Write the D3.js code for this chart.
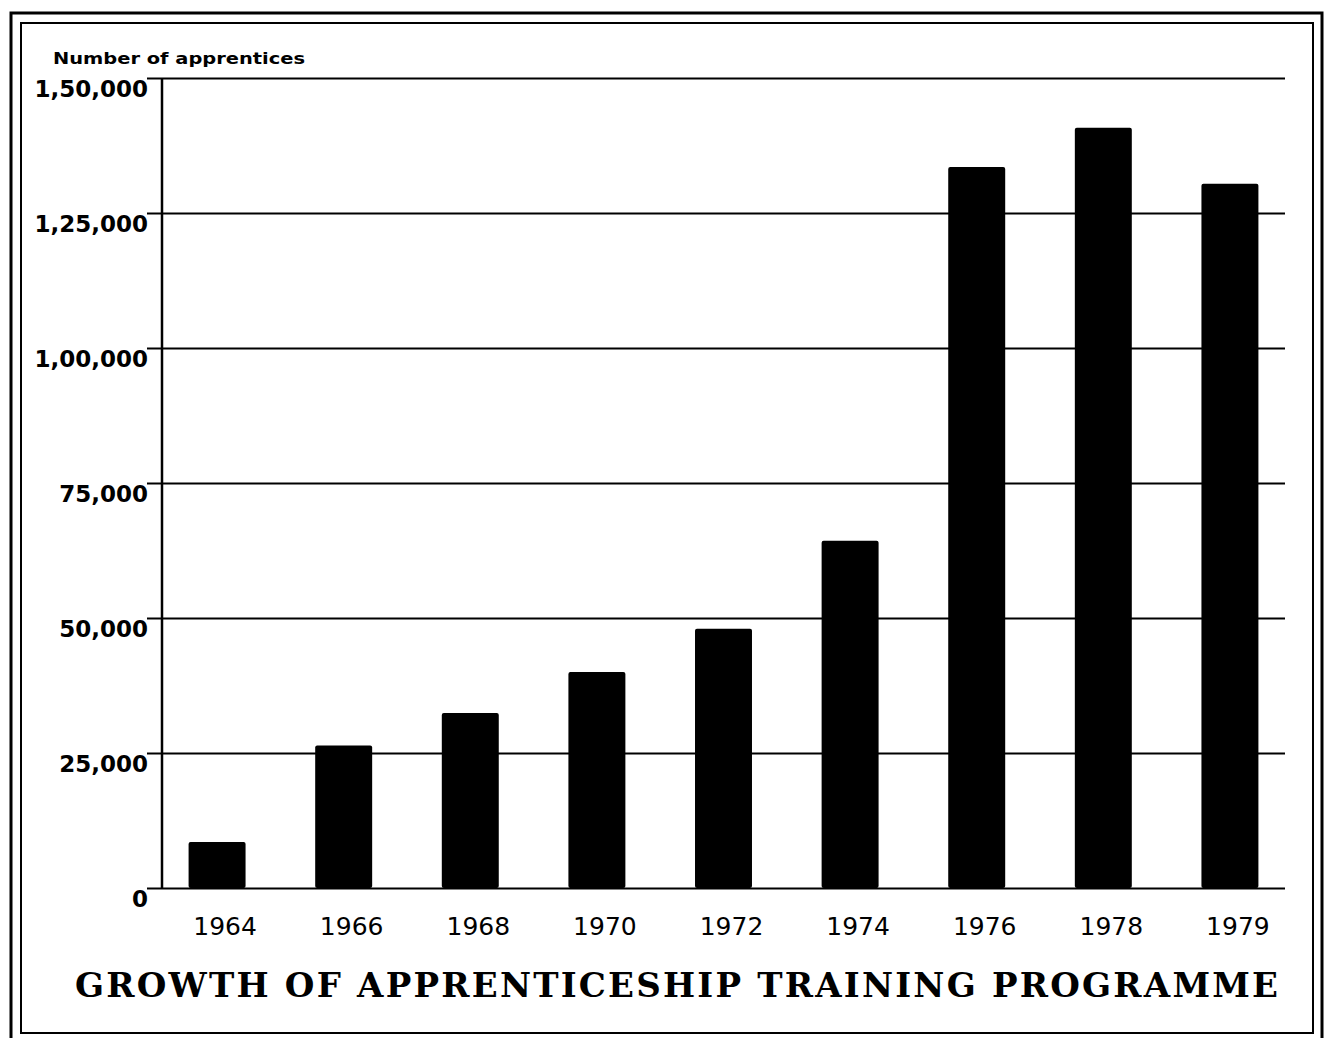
<!DOCTYPE html>
<html>
<head>
<meta charset="utf-8">
<script src="https://cdn.jsdelivr.net/npm/d3@7"></script>
<style>
  html, body { margin: 0; padding: 0; background: #fff; }
  svg { display: block; }
</style>
</head>
<body>
<svg id="chart" width="1327" height="1038"></svg>
<script>
// data
const years = ['1964', '1966', '1968', '1970', '1972', '1974', '1976', '1978', '1979']
const apprentices = [8500, 26400, 32400, 40000, 48000, 64300, 133500, 140800, 130400]
const yTicks = [0, 25000, 50000, 75000, 100000, 125000, 150000]
const yTitle = 'Number of apprentices'
const title = 'GROWTH OF APPRENTICESHIP TRAINING PROGRAMME'

// indian style grouping: 1,50,000
function indian(n) {
  if (n < 100000) return d3.format(',')(n)
  const lakh = Math.floor(n / 100000)
  const rest = n % 100000
  return lakh + ',' + String(Math.floor(rest / 1000)).padStart(2, '0') + ',' + String(rest % 1000).padStart(3, '0')
}

const svg = d3.select('#chart')
const plotLeft = 162, plotRight = 1285, plotTop = 78, plotBottom = 888

// frame (double border)
svg.append('rect')
   .attr('x', 11).attr('y', 13).attr('width', 1311).attr('height', 1030)
   .attr('fill', 'none').attr('stroke', '#000').attr('stroke-width', 3)
svg.append('rect')
   .attr('x', 21).attr('y', 23).attr('width', 1292).attr('height', 1010)
   .attr('fill', 'none').attr('stroke', '#000').attr('stroke-width', 2)

const x = d3.scaleBand()
            .domain(years)
            .range([plotLeft, plotRight])
            .paddingInner(0.55)
            .paddingOuter(0.21)

const y = d3.scaleLinear()
            .domain([0, 150000])
            .range([plotBottom, plotTop])

// y axis with gridlines
const yAxis = svg.append('g')
   .attr('transform', `translate(${plotLeft},0)`)
   .call(d3.axisLeft(y).tickValues(yTicks).tickFormat(indian).tickSize(15).tickPadding(0))
yAxis.select('.domain').remove()
yAxis.selectAll('.tick line').attr('stroke', '#000').attr('stroke-width', 2)
yAxis.selectAll('.tick').append('line')
   .attr('x1', 0).attr('x2', plotRight - plotLeft)
   .attr('stroke', '#000').attr('stroke-width', 2)
yAxis.selectAll('.tick text')
   .attr('x', -14)
   .attr('dy', '0.8em')
   .attr('fill', '#000')
   .style('font-family', 'DejaVu Sans')
   .style('font-weight', 'bold')
   .style('font-size', '23px')

svg.append('line')
   .attr('x1', plotLeft).attr('x2', plotLeft)
   .attr('y1', plotTop).attr('y2', plotBottom)
   .attr('stroke', '#000').attr('stroke-width', 2.5)

// bars
svg.append('g')
   .selectAll('rect')
   .data(apprentices)
   .join('rect')
   .attr('x', (_, i) => x(years[i]))
   .attr('y', d => y(d))
   .attr('width', x.bandwidth())
   .attr('height', d => y(0) - y(d))
   .attr('rx', 2)
   .attr('fill', '#000')

// x axis labels
const xAxis = svg.append('g')
   .attr('transform', `translate(0,${plotBottom})`)
   .call(d3.axisBottom(x).tickSize(0))
xAxis.select('.domain').remove()
xAxis.selectAll('.tick text')
   .attr('y', 47)
   .attr('dy', 0)
   .attr('dx', 8)
   .attr('fill', '#000')
   .style('font-family', 'DejaVu Sans')
   .style('font-size', '25px')

// axis title
svg.append('text')
   .attr('x', 53).attr('y', 64)
   .attr('textLength', 252)
   .attr('lengthAdjust', 'spacingAndGlyphs')
   .style('font-family', 'DejaVu Sans')
   .style('font-weight', 'bold')
   .style('font-size', '15px')
   .text(yTitle)

// chart title
svg.append('text')
   .attr('x', 75).attr('y', 997)
   .attr('textLength', 1203)
   .attr('lengthAdjust', 'spacing')
   .style('font-family', 'DejaVu Serif')
   .style('font-weight', 'bold')
   .style('font-size', '34px')
   .text(title)
</script>
</body>
</html>
